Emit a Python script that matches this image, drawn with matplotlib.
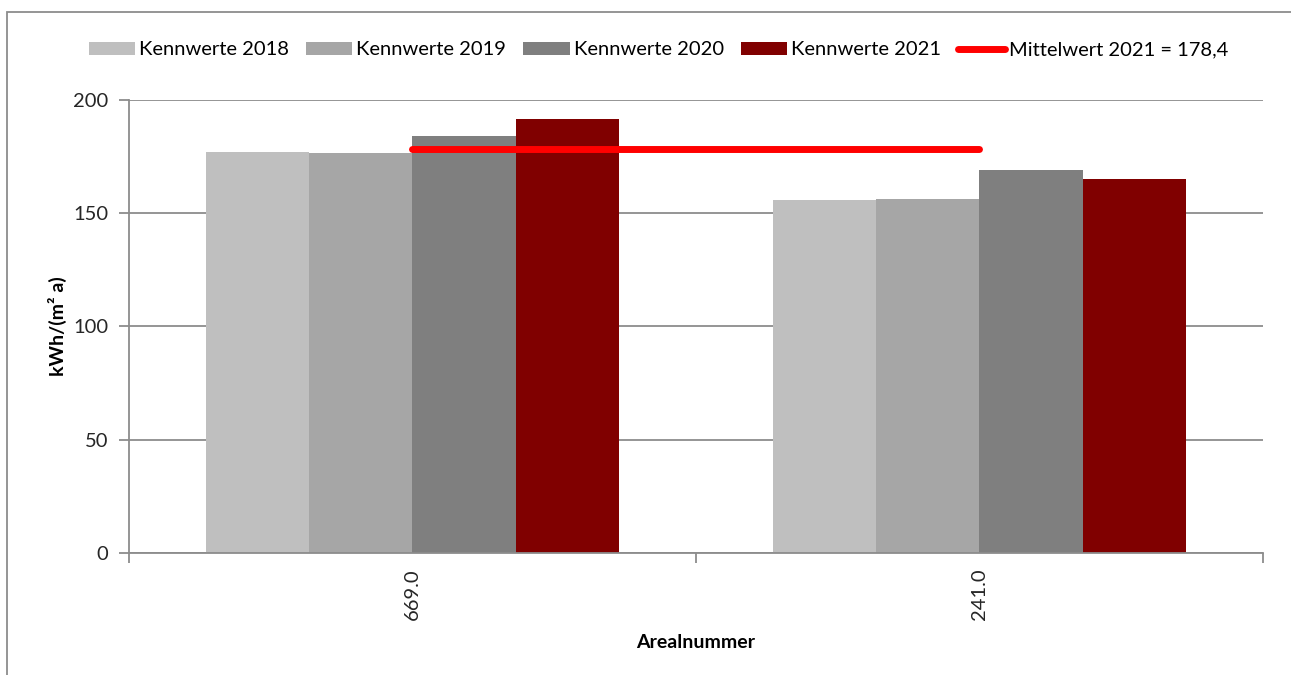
import numpy as np
import matplotlib
matplotlib.use("Agg")
import matplotlib.pyplot as plt
from matplotlib.patches import Rectangle

plt.rcParams['font.family'] = ['Lato', 'DejaVu Sans']
plt.rcParams['font.size'] = 14.5

# Daten
areale = ["669.0", "241.0"]
jahre = ["Kennwerte 2018", "Kennwerte 2019", "Kennwerte 2020", "Kennwerte 2021"]
kennwerte_2018 = [177.0, 155.8]
kennwerte_2019 = [176.4, 156.5]
kennwerte_2020 = [184.1, 169.1]
kennwerte_2021 = [191.6, 165.1]
mittelwert_2021 = 178.4

farben = ["#BFBFBF", "#A6A6A6", "#7F7F7F", "#800000"]
grau = "#8C8C8C"
text_farbe = "#262626"

fig = plt.figure(figsize=(12.91, 6.75), dpi=100)
ax = fig.add_axes([0.0999, 0.1807, 0.8784, 0.6712])

x = np.arange(len(areale))
breite = 0.182
serien = [kennwerte_2018, kennwerte_2019, kennwerte_2020, kennwerte_2021]
for k, (werte, name, farbe) in enumerate(zip(serien, jahre, farben)):
    ax.bar(x + (k - 1.5) * breite, werte, width=breite, color=farbe,
           label=name, zorder=2)

ax.plot(x, [mittelwert_2021] * len(x), color="#FF0000", linewidth=5,
        solid_capstyle="round", zorder=3,
        label=f"Mittelwert 2021 = {mittelwert_2021:.1f}".replace(".", ","))

# Achsen
ax.set_xlim(-0.5, len(areale) - 0.5)
ax.set_ylim(0, 200)
ax.set_yticks([0, 50, 100, 150, 200])
ax.yaxis.grid(True, color=grau, linewidth=1.3, zorder=0)
ax.set_axisbelow(True)

ax.set_xticks(x)
ax.set_xticklabels(areale, rotation=90, color=text_farbe)
ax.set_xticks(np.arange(len(areale) + 1) - 0.5, minor=True)
ax.tick_params(axis="x", which="major", length=0, pad=11)
ax.tick_params(axis="x", which="minor", length=7, width=1.3, color=grau)
ax.tick_params(axis="y", length=7, width=1.3, color=grau, labelcolor=text_farbe, pad=8)

for side in ["top", "right"]:
    ax.spines[side].set_visible(False)
for side in ["left", "bottom"]:
    ax.spines[side].set_color(grau)
    ax.spines[side].set_linewidth(1.3)

ax.set_xlabel("Arealnummer", fontweight="bold", fontsize=14, color="black", labelpad=10)
ax.set_ylabel("kWh/(m² a)", fontweight="bold", fontsize=14, color="black", labelpad=4)

# Legende: Balken zuerst, dann Mittelwertlinie
handles, labels = ax.get_legend_handles_labels()
handles = handles[1:] + handles[:1]
labels = labels[1:] + labels[:1]
fig.legend(handles, labels, loc="center", bbox_to_anchor=(0.51, 0.926), ncol=5,
           frameon=False, handlelength=2.3, handleheight=0.6, handletextpad=0.2,
           columnspacing=0.85, fontsize=14.5)

# Rahmen um die Grafik
fig.patches.append(Rectangle((7 / 1291, -0.1), 1.2, 0.982 + 0.1,
                             transform=fig.transFigure, fill=False,
                             edgecolor=grau, linewidth=1.3))

fig.savefig("out.png", dpi=100)
